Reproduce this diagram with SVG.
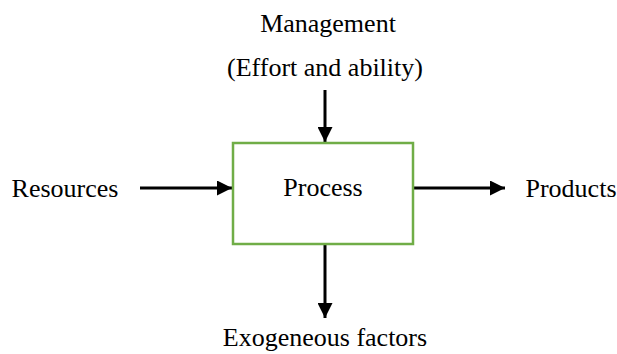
<svg xmlns="http://www.w3.org/2000/svg" width="617" height="354" viewBox="0 0 617 354">
<style>
text{font-family:"Liberation Serif","Times New Roman",serif;font-size:26px;fill:#000}
.box{fill:#fff;stroke:#70AD47;stroke-width:2.5}
.c{stroke:#000;stroke-width:3;fill:none}
</style>
<defs>
<marker id="ah" viewBox="0 0 10 10" refX="10" refY="5" markerUnits="userSpaceOnUse" markerWidth="15" markerHeight="15" orient="auto">
<path d="M0,0 L10,5 L0,10 Z" fill="#000"/>
</marker>
</defs>
<rect width="617" height="354" fill="#fff"/>
<g id="connectors">
<line class="c" x1="325" y1="90" x2="325" y2="142" marker-end="url(#ah)"/>
<line class="c" x1="140" y1="188" x2="232" y2="188" marker-end="url(#ah)"/>
<line class="c" x1="413" y1="188" x2="505" y2="188" marker-end="url(#ah)"/>
<line class="c" x1="325" y1="245" x2="325" y2="318" marker-end="url(#ah)"/>
</g>
<g id="process">
<rect class="box" x="233" y="143" width="180" height="101"/>
<text x="323" y="196" text-anchor="middle">Process</text>
</g>
<g id="management">
<text x="328" y="32" text-anchor="middle">Management</text>
<text x="325" y="76" text-anchor="middle">(Effort and ability)</text>
</g>
<g id="resources"><text x="65" y="197" text-anchor="middle">Resources</text></g>
<g id="products"><text x="571" y="197" text-anchor="middle">Products</text></g>
<g id="exogeneous"><text x="325" y="346" text-anchor="middle">Exogeneous factors</text></g>
</svg>
